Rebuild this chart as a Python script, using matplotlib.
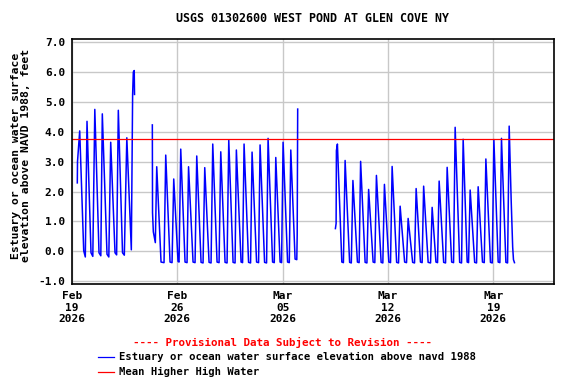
import numpy as np
import pandas as pd
import matplotlib
matplotlib.use("Agg")
import matplotlib.pyplot as plt
import matplotlib.dates as mdates
from matplotlib.lines import Line2D

plt.rcParams['font.family'] = 'DejaVu Sans Mono'
plt.rcParams['font.weight'] = 'bold'

start = pd.Timestamp("2026-02-19 00:00")

# hours after Feb 19 00:00 and water level (ft)
seg1_hours = [8.46, 8.78, 12.29, 18.67, 21.22, 23.94, 30.32, 33.19, 36.38, 43.08,
              45.96, 48.35, 55.85, 58.72, 61.75, 68.62, 71.17, 73.88, 80.58, 83.46,
              87.44, 94.63, 96.70, 97.82, 99.25, 99.73]
seg1_level = [2.29, 3.00, 4.03, 0.02, -0.19, 4.35, -0.05, -0.17, 4.75, -0.05,
              -0.15, 4.60, -0.10, -0.19, 3.65, -0.05, -0.12, 4.72, -0.05, -0.13,
              3.80, 0.05, 5.25, 6.00, 6.05, 5.25]

seg2_hours = [128.14, 128.45, 129.73, 132.92, 135.16, 142.02, 146.80, 149.51, 156.38, 159.57,
              162.28, 169.14, 170.74, 173.45, 180.31, 183.50, 185.90, 193.08, 196.27, 198.98,
              205.85, 209.04, 211.75, 218.61, 221.80, 224.51, 231.38, 234.57, 237.28, 244.14,
              247.33, 250.05, 256.91, 260.10, 262.18, 269.67, 272.07, 274.46, 281.64, 284.83,
              287.23, 294.41, 297.60, 299.99, 307.17, 310.36, 312.76, 319.94, 322.65, 325.04,
              331.91, 334.30, 336.69, 343.87, 346.58, 348.98, 355.84, 358.55, 359.19, 359.99]
seg2_level = [4.23, 1.29, 0.65, 0.29, 2.83, -0.36, -0.38, 3.22, -0.36, -0.38,
              2.42, -0.34, -0.36, 3.42, -0.36, -0.38, 2.83, -0.36, -0.38, 3.19,
              -0.37, -0.39, 2.80, -0.37, -0.39, 3.59, -0.36, -0.38, 3.33, -0.37,
              -0.39, 3.72, -0.37, -0.39, 3.39, -0.36, -0.38, 3.59, -0.37, -0.39,
              3.32, -0.36, -0.38, 3.56, -0.37, -0.39, 3.78, -0.36, -0.38, 3.14,
              -0.36, -0.38, 3.65, -0.36, -0.38, 3.39, -0.26, -0.28, 0.54, 4.76]

seg3_hours = [420.15, 421.27, 421.75, 423.34, 430.36, 432.92, 435.63, 442.81, 445.52, 448.08,
              455.26, 457.97, 460.37, 467.55, 470.42, 473.13, 480.31, 483.02, 485.58, 493.08,
              495.79, 498.34, 505.36, 508.08, 510.62, 517.81, 520.84, 523.39, 530.57, 533.60,
              536.16, 543.34, 546.37, 548.92, 555.79, 558.50, 560.89, 568.07, 571.90, 574.45,
              580.52, 583.07, 585.62, 592.81, 595.84, 598.39, 605.57, 608.60, 611.15, 618.33,
              621.37, 623.92, 630.30, 632.54, 635.09, 642.27, 645.30, 647.85, 654.72, 657.59,
              660.14, 667.48, 670.35, 672.91, 679.77, 682.48, 685.04, 692.06, 694.77, 697.32,
              700.51, 702.91, 704.18, 705.78]
seg3_level = [0.76, 0.93, 3.37, 3.59, -0.36, -0.38, 3.04, -0.37, -0.39, 2.37,
              -0.36, -0.38, 3.01, -0.37, -0.39, 2.07, -0.36, -0.38, 2.54, -0.37,
              -0.39, 2.24, -0.36, -0.38, 2.84, -0.37, -0.39, 1.51, -0.36, -0.38,
              1.10, -0.37, -0.39, 2.10, -0.36, -0.38, 2.18, -0.37, -0.39, 1.47,
              -0.36, -0.38, 2.35, -0.37, -0.39, 2.81, -0.36, -0.38, 4.15, -0.37,
              -0.39, 3.75, -0.36, -0.38, 2.05, -0.37, -0.39, 2.16, -0.36, -0.38,
              3.09, -0.37, -0.39, 3.74, -0.36, -0.38, 3.78, -0.37, -0.39, 4.19,
              1.71, 0.14, -0.28, -0.38]

mhhw = 3.76
tick_dates = ["2026-02-19", "2026-02-26", "2026-03-05", "2026-03-12", "2026-03-19"]
y_ticks = [-1, 0, 1, 2, 3, 4, 5, 6, 7]

fig = plt.figure(figsize=(5.76, 3.84), dpi=100)
ax = fig.add_axes([0.125, 0.26, 0.837, 0.638])

for hrs, lev in [(seg1_hours, seg1_level), (seg2_hours, seg2_level), (seg3_hours, seg3_level)]:
    t = start + pd.to_timedelta(hrs, unit="h")
    ax.plot(t, lev, color="#0000ff", lw=1.1)

ax.axhline(mhhw, color="#ff0000", lw=0.9)

ax.set_xlim(start, start + pd.Timedelta(hours=769))
ax.set_ylim(-1.1, 7.1)
ax.set_yticks(y_ticks)
ax.set_yticklabels(["%.1f" % v for v in y_ticks])
ax.set_xticks(pd.to_datetime(tick_dates))
ax.xaxis.set_major_formatter(mdates.DateFormatter("%b\n%d\n%Y"))
ax.tick_params(length=0, labelsize=8, pad=5)
ax.grid(True, color="#c8c8c8", lw=1.0)
ax.set_axisbelow(True)
for s in ax.spines.values():
    s.set_linewidth(1.2)

fig.text(0.5434, 0.953, "USGS 01302600 WEST POND AT GLEN COVE NY",
         ha="center", va="center", fontsize=8.4)
fig.text(0.036, 0.595, "Estuary or ocean water surface\nelevation above NAVD 1988, feet",
         rotation=90, ha="center", va="center", fontsize=8.2, linespacing=1.0)

fig.text(0.4905, 0.107, "---- Provisional Data Subject to Revision ----",
         ha="center", va="center", fontsize=7.8, color="#ff0000")
fig.add_artist(Line2D([0.170, 0.198], [0.0703, 0.0703], color="#0000ff", lw=0.9))
fig.text(0.2066, 0.0703, "Estuary or ocean water surface elevation above navd 1988",
         ha="left", va="center", fontsize=7.6)
fig.add_artist(Line2D([0.170, 0.198], [0.0313, 0.0313], color="#ff0000", lw=0.9))
fig.text(0.2066, 0.0313, "Mean Higher High Water",
         ha="left", va="center", fontsize=7.6)

fig.savefig("out.png", dpi=100)
